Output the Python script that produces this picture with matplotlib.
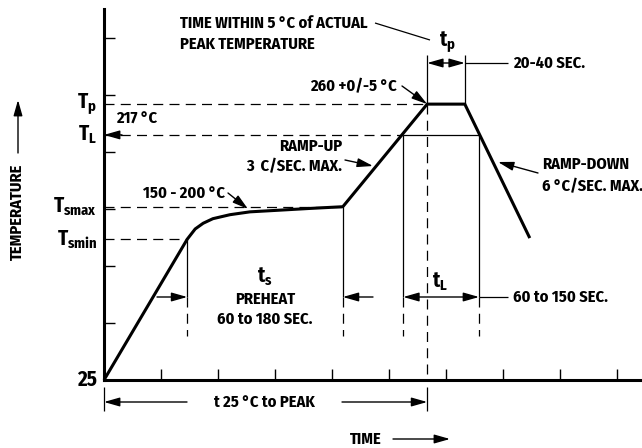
import matplotlib
matplotlib.use('Agg')
import matplotlib.pyplot as plt
from matplotlib import font_manager as fm

_available = {f.name for f in fm.fontManager.ttflist}
FONT = 'DejaVu Sans'
for cand in ['Fira Sans Condensed', 'Fira Sans Extra Condensed', 'Barlow Semi Condensed',
             'Asap Condensed', 'Archivo Narrow']:
    if cand in _available:
        FONT = cand
        break

plt.rcParams['font.family'] = [FONT, 'DejaVu Sans']
plt.rcParams['font.weight'] = 'bold'
plt.rcParams['mathtext.fontset'] = 'custom'
plt.rcParams['mathtext.it'] = FONT + ':bold'
plt.rcParams['mathtext.rm'] = FONT + ':bold'
plt.rcParams['mathtext.bf'] = FONT + ':bold'

# ---------------- data (schematic units: one tick = one unit) ----------------
profile_time = [0.00, 1.46, 1.60, 1.74, 1.91, 2.21, 2.56, 3.09, 3.61, 4.19, 5.67, 6.33, 7.47]
profile_temp = [0.00, 2.47, 2.65, 2.75, 2.83, 2.90, 2.95, 2.98, 3.01, 3.04, 4.84, 4.84, 2.49]

T_p, T_L, T_smax, T_smin, T_25 = 4.84, 4.30, 3.04, 2.47, 0.0
level_values = [T_p, T_L, T_smax, T_smin, T_25]
level_labels = [r'$T_p$', r'$T_L$', r'$T_{smax}$', r'$T_{smin}$', '25']

t_smin, t_smax = 1.46, 4.19
t_L_start, t_L_end = 5.25, 6.58
t_p_start, t_p_end = 5.67, 6.33

x_ticks = [1, 2, 3, 4, 5, 6, 7, 8, 9]
y_ticks = [1, 2, 3, 4, 5, 6]

# ---------------- layout helpers (pixel -> axes data) ----------------
U = 57.0
def X(px):
    return (px - 104) / U
def Y(py):
    return (380 - py) / U

fig = plt.figure(figsize=(6.42, 4.48), dpi=100)
ax = fig.add_axes([104 / 642, 68 / 448, 538 / 642, 371 / 448])
ax.set_xlim(0, 538 / U)
ax.set_ylim(0, 371 / U)
for s in ['top', 'right']:
    ax.spines[s].set_visible(False)
for s in ['left', 'bottom']:
    ax.spines[s].set_linewidth(2.2)
ax.set_xticks(x_ticks)
ax.set_yticks(y_ticks)
ax.tick_params(direction='in', length=8, width=1, labelbottom=False, labelleft=False)

K = 'black'
DASH = (0, (8, 5))
thin = 0.9

def arrow(tail, tip, style='-|>'):
    ax.annotate('', xy=tip, xytext=tail, annotation_clip=False,
                arrowprops=dict(arrowstyle=style + ',head_length=0.95,head_width=0.27',
                                lw=1.0, color=K, shrinkA=0, shrinkB=0))

def line(xs, ys, ls='-', lw=thin):
    ax.plot(xs, ys, color=K, lw=lw, ls=ls, clip_on=False, solid_capstyle='butt')

# profile
ax.plot(profile_time, profile_temp, color=K, lw=2.2, solid_joinstyle='miter',
        solid_capstyle='butt', clip_on=False)

# horizontal level lines
line([0, t_p_start], [T_p, T_p], DASH)
line([0, t_L_start], [T_L, T_L], DASH)
line([t_L_start, t_L_end], [T_L, T_L])
line([0, t_smax], [T_smax, T_smax], DASH)
line([0, t_smin], [T_smin, T_smin], DASH)
arrow((X(122), T_L), (0, T_L))

# vertical marker lines
yA = Y(297)
for t, lev in [(t_smin, T_smin), (t_smax, T_smax), (t_L_start, T_L), (t_L_end, T_L)]:
    line([t, t], [lev, yA])
    line([t, t], [yA, Y(336)], DASH)
line([t_p_start, t_p_start], [T_p, 0], DASH)
for t in [t_p_start, t_p_end]:
    line([t, t], [Y(55), T_p])
for t in [0, t_p_start]:
    line([t, t], [Y(387), Y(411)])

# duration arrows
arrow((X(157), yA), (t_smin, yA))
arrow((X(373), yA), (t_smax, yA))
arrow((t_L_start, yA), (t_L_end, yA), '<|-|>')
line([t_L_end, X(508)], [yA, yA])
yP = Y(63)
arrow((t_p_start, yP), (t_p_end, yP), '<|-|>')
line([t_p_end, X(508)], [yP, yP])
y25 = Y(402)
arrow((X(187), y25), (0, y25))
arrow((X(342), y25), (t_p_start, y25))

# texts
fs = 11.8
fl = 15
ax.text(X(180), Y(23), 'TIME WITHIN 5 °C of ACTUAL', fontsize=fs, ha='left', va='center')
ax.text(X(180), Y(44), 'PEAK TEMPERATURE', fontsize=fs, ha='left', va='center')
line([X(375), X(430)], [Y(23), Y(40)])
ax.text(X(447), Y(42), r'$t_p$', fontsize=fl, ha='center', va='center')
ax.text(X(513), yP, '20-40 SEC.', fontsize=fs, ha='left', va='center')
ax.text(X(397), Y(87), '260 +0/-5 °C', fontsize=fs, ha='right', va='center')
arrow((X(402), Y(86)), (t_p_start, T_p))
ax.text(X(116), Y(119), '217 °C', fontsize=fs, ha='left', va='center')
ax.text(X(342), Y(146), 'RAMP-UP', fontsize=fs, ha='right', va='center')
ax.text(X(342), Y(167), '3  C/SEC. MAX.', fontsize=fs, ha='right', va='center')
arrow((X(345), Y(160)), (X(373), Y(166)))
ax.text(X(143), Y(193), '150 - 200 °C', fontsize=fs, ha='left', va='center')
arrow((X(228), Y(193)), (X(248), Y(209)))
ax.text(X(542), Y(164), 'RAMP-DOWN', fontsize=fs, ha='left', va='center')
ax.text(X(542), Y(187), '6 °C/SEC. MAX.', fontsize=fs, ha='left', va='center')
arrow((X(538), Y(173)), (X(498), Y(162)))
ax.text(X(265), Y(277), r'$t_s$', fontsize=fl, ha='center', va='center')
ax.text(X(265), Y(299), 'PREHEAT', fontsize=fs, ha='center', va='center')
ax.text(X(265), Y(319), '60 to 180 SEC.', fontsize=fs, ha='center', va='center')
ax.text(X(440), Y(282), r'$t_L$', fontsize=fl, ha='center', va='center')
ax.text(X(513), yA, '60 to 150 SEC.', fontsize=fs, ha='left', va='center')
ax.text(X(264), y25, 't 25 °C to PEAK', fontsize=fs, ha='center', va='center')
ax.text(X(350), Y(439), 'TIME', fontsize=fs, ha='left', va='center')
arrow((X(393), Y(439)), (X(450), Y(439)))
ax.text(X(17), Y(212), 'TEMPERATURE', fontsize=fs, rotation=90, ha='center', va='center')
arrow((X(18), Y(153)), (X(18), Y(100)))

for v, lab in zip(level_values, level_labels):
    ax.text(X(97), v, lab, fontsize=fl, ha='right', va='center')

fig.savefig('out.png', dpi=100)
